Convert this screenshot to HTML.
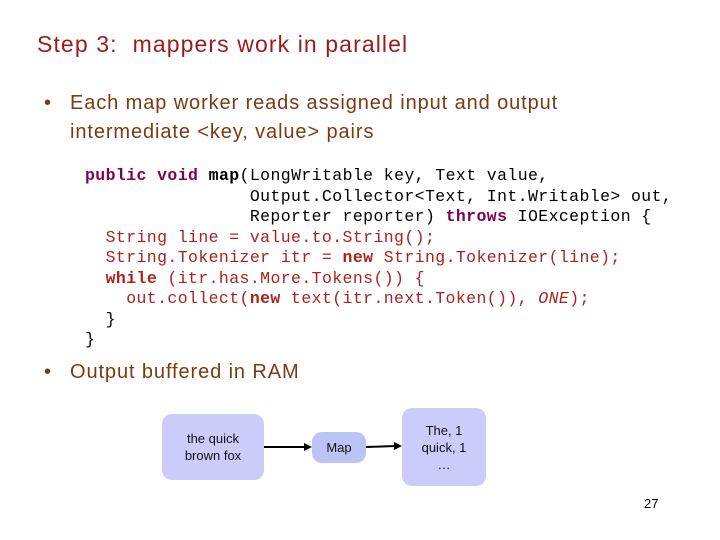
<!DOCTYPE html>
<html><head><meta charset="utf-8"><style>
body{margin:0;width:720px;height:540px;background:#fff;position:relative;overflow:hidden;font-family:"Liberation Sans",sans-serif}
.a{position:absolute;white-space:pre}
.t{left:37px;top:31px;font-size:23px;letter-spacing:1.1px;color:#9b1b1b}
.b{font-size:20px;letter-spacing:0.9px;color:#7a3a12}
pre{position:absolute;left:85px;top:166px;margin:0;font-family:"Liberation Mono",monospace;font-size:16.5px;letter-spacing:0.4px;line-height:20.5px;color:#a8231c}
.k{color:#7f0055;font-weight:bold}
.bk{color:#000}
.box{position:absolute;background:#ccccfa;border-radius:10px;display:flex;align-items:center;justify-content:center;text-align:center;font-size:13px;line-height:17px;color:#111}
</style></head><body>
<div class="a t">Step 3:  mappers work in parallel</div>
<div class="a b" style="left:44px;top:92px">•</div>
<div class="a b" style="left:70px;top:92px">Each map worker reads assigned input and output</div>
<div class="a b" style="left:70px;top:121px">intermediate &lt;key, value&gt; pairs</div>
<pre><span class="k">public void</span> <span class="bk"><b>map</b>(Long<span>Writable key, Text value,</span></span>
<span class="bk">                Output.Collector&lt;Text, Int.Writable&gt; out,</span>
<span class="bk">                Reporter reporter) <span class="k">throws</span> IOException {</span>
  String line = value.to.String();
  String.Tokenizer itr = <span class="k" style="color:#a8231c">new</span> String.Tokenizer(line);
  <span class="k" style="color:#a8231c">while</span> (itr.has.More.Tokens()) {
    out.collect(<span class="k" style="color:#a8231c">new</span> text(itr.next.Token()), <i>ONE</i>);
  <span class="bk">}</span>
<span class="bk">}</span></pre>
<div class="a b" style="left:44px;top:361px">•</div>
<div class="a b" style="left:70px;top:361px">Output buffered in RAM</div>
<div class="box" style="left:162px;top:414px;width:102px;height:66px">the quick<br>brown fox</div>
<div class="box" style="left:312px;top:432px;width:54px;height:31px;background:#bcc4f5">Map</div>
<div class="box" style="left:402px;top:408px;width:84px;height:78px">The, 1<br>quick, 1<br>…</div>
<svg class="a" style="left:0;top:0" width="720" height="540">
<line x1="264" y1="447" x2="306" y2="447" stroke="#000" stroke-width="2"/>
<polygon points="312,447 304,443 304,451" fill="#000"/>
<line x1="366" y1="447" x2="396" y2="446" stroke="#000" stroke-width="2"/>
<polygon points="402,446 394,442 394,450" fill="#000"/>
</svg>
<div class="a" style="left:644px;top:496px;font-size:13px">27</div>
</body></html>
